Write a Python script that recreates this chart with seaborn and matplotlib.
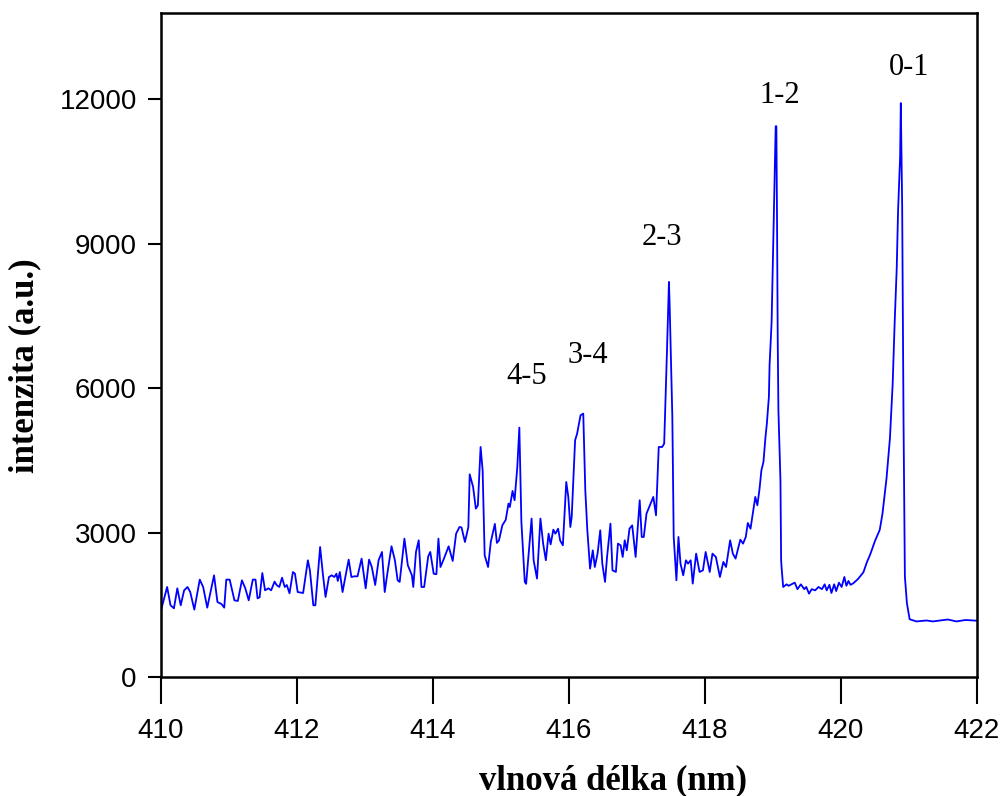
import numpy as np
import pandas as pd
import matplotlib
matplotlib.use("Agg")
import matplotlib.pyplot as plt
import seaborn as sns

# vlnova delka (nm) a intenzita
wavelength = [
    410.00, 410.09, 410.14, 410.19, 410.24, 410.29, 410.34, 410.39, 410.43, 410.49,
    410.57, 410.62, 410.68, 410.78, 410.83, 410.89, 410.93, 410.96, 411.01, 411.08,
    411.13, 411.19, 411.24, 411.29, 411.35, 411.39, 411.42, 411.45, 411.49, 411.53,
    411.58, 411.62, 411.67, 411.70, 411.74, 411.78, 411.82, 411.85, 411.89, 411.94,
    411.97, 412.01, 412.09, 412.16, 412.19, 412.24, 412.27, 412.34, 412.38, 412.42,
    412.47, 412.51, 412.55, 412.58, 412.60, 412.63, 412.65, 412.67, 412.72, 412.76,
    412.80, 412.84, 412.89, 412.95, 413.01, 413.06, 413.10, 413.15, 413.20, 413.25,
    413.29, 413.33, 413.39, 413.44, 413.48, 413.51, 413.58, 413.63, 413.69, 413.71,
    413.75, 413.79, 413.83, 413.87, 413.93, 413.96, 414.01, 414.05, 414.08, 414.11,
    414.16, 414.23, 414.29, 414.34, 414.39, 414.42, 414.47, 414.52, 414.54, 414.59,
    414.63, 414.66, 414.70, 414.73, 414.76, 414.81, 414.85, 414.91, 414.94, 414.97,
    415.02, 415.07, 415.11, 415.13, 415.17, 415.20, 415.24, 415.27, 415.30, 415.35,
    415.37, 415.45, 415.48, 415.53, 415.58, 415.62, 415.66, 415.70, 415.73, 415.77,
    415.80, 415.84, 415.87, 415.91, 415.96, 415.99, 416.02, 416.04, 416.09, 416.12,
    416.17, 416.21, 416.24, 416.27, 416.31, 416.35, 416.38, 416.42, 416.46, 416.49,
    416.53, 416.56, 416.61, 416.64, 416.69, 416.72, 416.76, 416.79, 416.82, 416.85,
    416.89, 416.93, 416.98, 417.04, 417.07, 417.10, 417.14, 417.19, 417.24, 417.28,
    417.32, 417.37, 417.40, 417.44, 417.47, 417.48, 417.52, 417.54, 417.58, 417.61,
    417.64, 417.68, 417.72, 417.75, 417.79, 417.82, 417.87, 417.92, 417.97, 418.01,
    418.04, 418.07, 418.11, 418.16, 418.22, 418.27, 418.31, 418.37, 418.41, 418.45,
    418.52, 418.56, 418.60, 418.63, 418.67, 418.71, 418.74, 418.77, 418.80, 418.83,
    418.86, 418.89, 418.91, 418.94, 418.95, 418.98, 418.99, 419.00, 419.01, 419.02,
    419.03, 419.04, 419.05, 419.06, 419.07, 419.08, 419.11, 419.12, 419.13, 419.15,
    419.20, 419.23, 419.27, 419.32, 419.36, 419.41, 419.46, 419.49, 419.53, 419.57,
    419.62, 419.67, 419.72, 419.76, 419.79, 419.83, 419.86, 419.90, 419.93, 419.97,
    420.01, 420.05, 420.08, 420.11, 420.14, 420.18, 420.25, 420.33, 420.38, 420.43,
    420.50, 420.57, 420.61, 420.67, 420.72, 420.76, 420.79, 420.82, 420.84, 420.87,
    420.88, 420.90, 420.92, 420.94, 420.97, 421.01, 421.11, 421.26, 421.35, 421.57,
    421.70, 421.83, 422.00,
]
intensity = [
    1390, 1875, 1495, 1432, 1847, 1495, 1806, 1875, 1770, 1405,
    2028, 1875, 1446, 2117, 1563, 1520, 1446, 2028, 2028, 1598,
    1585, 2014, 1847, 1598, 2028, 2028, 1640, 1660, 2165, 1806,
    1847, 1806, 1986, 1916, 1875, 2068, 1875, 1916, 1744, 2186,
    2151, 1770, 1750, 2429, 2220, 1495, 1495, 2705, 2151, 1668,
    2082, 2117, 2082, 2151, 2000, 2186, 1980, 1770, 2151, 2443,
    2082, 2096, 2096, 2464, 1847, 2443, 2290, 1916, 2429, 2602,
    1770, 2165, 2720, 2429, 2014, 1980, 2879, 2325, 2117, 1875,
    2602, 2844, 1875, 1875, 2512, 2602, 2151, 2140, 2879, 2290,
    2460, 2720, 2415, 2982, 3120, 3110, 2809, 3120, 4214, 3951,
    3502, 3570, 4781, 4300, 2533, 2290, 2809, 3185, 2790, 2840,
    3155, 3270, 3606, 3535, 3868, 3675, 4365, 5183, 3225, 1980,
    1940, 3295, 2430, 2050, 3295, 2775, 2430, 2982, 2760, 3065,
    2982, 3085, 2840, 2740, 4055, 3745, 3120, 3328, 4920, 5060,
    5439, 5474, 3882, 3052, 2256, 2636, 2290, 2567, 3052, 2360,
    1980, 2498, 3190, 2221, 2187, 2775, 2740, 2498, 2844, 2636,
    3085, 3155, 2498, 3675, 2913, 2913, 3398, 3570, 3744, 3363,
    4781, 4781, 4850, 6720, 8207, 7757, 5405, 2913, 2014, 2913,
    2360, 2117, 2429, 2360, 2429, 1945, 2567, 2187, 2221, 2602,
    2395, 2187, 2567, 2498, 2083, 2395, 2290, 2844, 2567, 2464,
    2858, 2775, 2913, 3203, 3085, 3467, 3744, 3571, 3882, 4297,
    4470, 4989, 5266, 5820, 6477, 7376, 8034, 8726, 9419, 10110,
    10768, 11439, 11439, 9419, 7000, 5543, 4090, 2429, 2221, 1875,
    1930, 1900, 1930, 1965, 1830, 1930, 1830, 1875, 1737, 1830,
    1805, 1875, 1830, 1930, 1805, 1920, 1750, 1930, 1790, 1965,
    1875, 2083, 1900, 2000, 1920, 1950, 2040, 2180, 2385, 2550,
    2830, 3060, 3390, 4130, 4960, 6080, 7375, 8490, 9695, 10810,
    11920, 9790, 5335, 2090, 1535, 1205, 1160, 1180, 1160, 1200,
    1160, 1190, 1175,
]

# popisky vibracnich prechodu
band_labels = ["0-1", "1-2", "2-3", "3-4", "4-5"]
band_x = [421.00, 419.10, 417.37, 416.28, 415.38]
band_y = [12650, 12079, 9120, 6690, 6234]

xticks = [410, 412, 414, 416, 418, 420, 422]
yticks = [0, 3000, 6000, 9000, 12000]

df = pd.DataFrame({"wl": wavelength, "I": intensity})

sns.set_theme(style="ticks")
plt.rcParams["font.family"] = ["Liberation Sans", "DejaVu Sans"]

fig = plt.figure(figsize=(10.05, 7.96), dpi=100)
ax = fig.add_axes([0.1602, 0.1491, 0.8119, 0.8340])

sns.lineplot(data=df, x="wl", y="I", color="#0000ff", linewidth=1.3,
             estimator=None, sort=False, ax=ax)

for lab, x, y in zip(band_labels, band_x, band_y):
    ax.text(x, y, lab, ha="center", va="center", fontsize=22,
            family="Liberation Serif", color="black")

ax.set_xlim(410, 422)
ax.set_ylim(0, 13780)
ax.set_xticks(xticks)
ax.set_yticks(yticks)

for s in ax.spines.values():
    s.set_linewidth(1.8)
    s.set_color("black")

ax.tick_params(axis="x", direction="out", length=19.4, width=1.5, pad=10,
               labelsize=20, colors="black")
ax.tick_params(axis="y", direction="out", length=9.4, width=1.5, pad=8,
               labelsize=20, colors="black")

ax.set_xlabel("vlnová délka (nm)", fontsize=25, fontweight="bold",
              family="Liberation Serif", color="black")
ax.set_ylabel("intenzita (a.u.)", fontsize=25, fontweight="bold",
              family="Liberation Serif", color="black")
ax.xaxis.label.set_va("center")
ax.yaxis.label.set_va("center")
ax.xaxis.set_label_coords(0.554, -0.156)
ax.yaxis.set_label_coords(-0.167, 0.469)

fig.savefig("out.png", dpi=100, facecolor="white")
